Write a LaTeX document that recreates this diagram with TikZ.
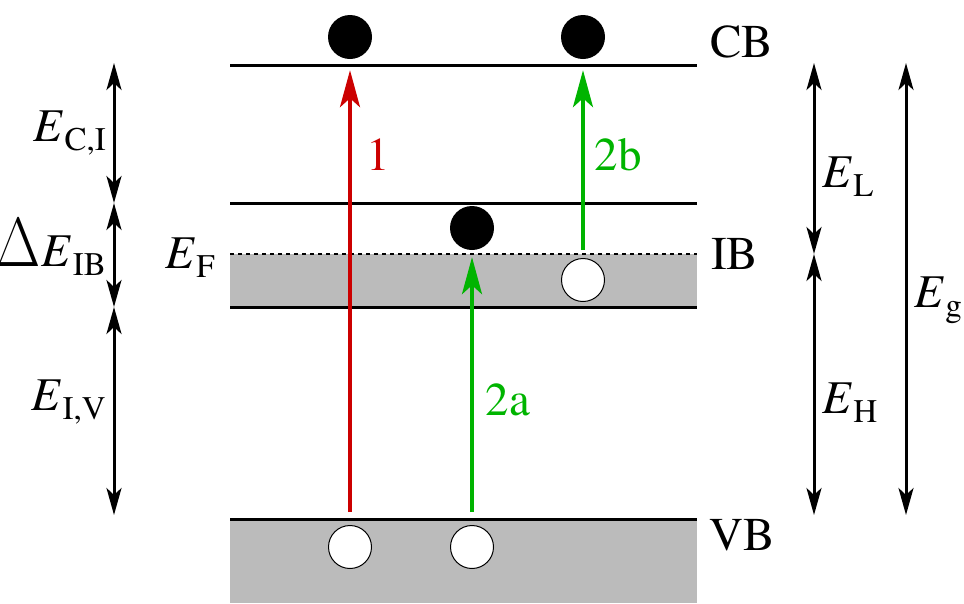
\documentclass[tikz,border=0pt]{standalone}
\usepackage{fontspec}
\setmainfont{texgyretermes}[Extension=.otf,UprightFont=*-regular,ItalicFont=*-italic,BoldFont=*-bold,BoldItalicFont=*-bolditalic]
\usetikzlibrary{arrows.meta}
\definecolor{exred}{RGB}{204,0,0}
\definecolor{exgreen}{RGB}{0,180,0}
\definecolor{bandgray}{RGB}{187,187,187}
\newcommand{\En}[1]{\textit{E}\kern0.03em\raisebox{-0.2em}{\fontsize{33}{33}\selectfont #1}}
\newcommand{\Dl}{\scalebox{2.3}[2.8]{$\Delta$}\kern0.02em}
\begin{document}
\begin{tikzpicture}[x=1pt,y=-1pt,
    level/.style={line width=3pt},
    electron/.style={circle,fill=black,minimum size=44pt,inner sep=0pt},
    hole/.style={circle,draw=black,line width=1pt,fill=white,minimum size=43pt,inner sep=0pt},
    excite/.style={line width=3.5pt,-{Stealth[length=37pt,width=20pt,inset=9pt]}},
    span/.style={line width=3pt,{Stealth[length=27pt,width=15pt,inset=7pt]}-{Stealth[length=27pt,width=15pt,inset=7pt]}},
    lbl/.style={font=\fontsize{47}{47}\selectfont,inner sep=0pt}]
    \useasboundingbox (0,0) rectangle (964,603);

    % bands
    \fill[bandgray] (230,254) rectangle (697,307);
    \fill[bandgray] (230,519) rectangle (697,603);
    \coordinate (cbL) at (230,65);  \coordinate (cbR) at (697,65);
    \coordinate (ibL) at (230,203); \coordinate (ibR) at (697,203);
    \coordinate (efL) at (230,254); \coordinate (efR) at (697,254);
    \coordinate (ivL) at (230,307); \coordinate (ivR) at (697,307);
    \coordinate (vbL) at (230,519); \coordinate (vbR) at (697,519);
    \draw[level] (cbL)--(cbR);
    \draw[level] (ibL)--(ibR);
    \draw[line width=1.5pt,dash pattern=on 4pt off 4pt] (efL)--(efR);
    \draw[level] (ivL)--(ivR);
    \draw[level] (vbL)--(vbR);

    \node[lbl,anchor=base west] (cb) at (710,57) {CB};
    \node[lbl,anchor=base west] (ib) at (711,269) {IB};
    \node[lbl,anchor=base west] (vb) at (709,550) {VB};
    \node[lbl,anchor=base east] (ef) at (215,268) {\En{F}};

    % electrons and holes
    \node[electron] (e1) at (350,37) {};
    \node[electron] (e2) at (583,37) {};
    \node[electron] (e3) at (472,228) {};
    \node[hole] (h1) at (350,547) {};
    \node[hole] (h2) at (472,547) {};
    \node[hole] (h3) at (583,280) {};

    % transitions
    \draw[excite,exred] ([yshift=13pt]h1.north) -- ([yshift=-11pt]e1.south)
        node[pos=0.81,right=15pt,lbl,text=exred] (t1) {1};
    \draw[excite,exgreen] ([yshift=13pt]h2.north) -- ([yshift=-7pt]e3.south)
        node[pos=0.44,right=12pt,lbl,text=exgreen] (t2a) {2a};
    \draw[excite,exgreen] ([yshift=8pt]h3.north) -- ([yshift=-11pt]e2.south)
        node[pos=0.53,right=10pt,lbl,text=exgreen] (t2b) {2b};

    % energy spans
    \coordinate (a1) at (114,63);  \coordinate (a2) at (114,203);
    \coordinate (a3) at (114,307); \coordinate (a4) at (114,515);
    \coordinate (b1) at (814,63);  \coordinate (b2) at (814,254);
    \coordinate (b3) at (814,515);
    \coordinate (g1) at (906,63);  \coordinate (g2) at (906,515);
    \draw[span] (a1)--(a2);
    \draw[span] (a2)--(a3);
    \draw[span] (a3)--(a4);
    \draw[span] (b1)--(b2);
    \draw[span] (b2)--(b3);
    \draw[span] (g1)--(g2);

    \node[lbl,anchor=base east] (eci) at (106,141) {\En{C,I}};
    \node[lbl,anchor=base east] (dib) at (106,266) {\Dl\En{IB}};
    \node[lbl,anchor=base east] (eiv) at (106,410) {\En{I,V}};
    \node[lbl,anchor=base west] (el) at (822,187) {\En{L}};
    \node[lbl,anchor=base west] (eh) at (822,413) {\En{H}};
    \node[lbl,anchor=base west] (eg) at (914,307) {\En{g}};
\end{tikzpicture}
\end{document}
